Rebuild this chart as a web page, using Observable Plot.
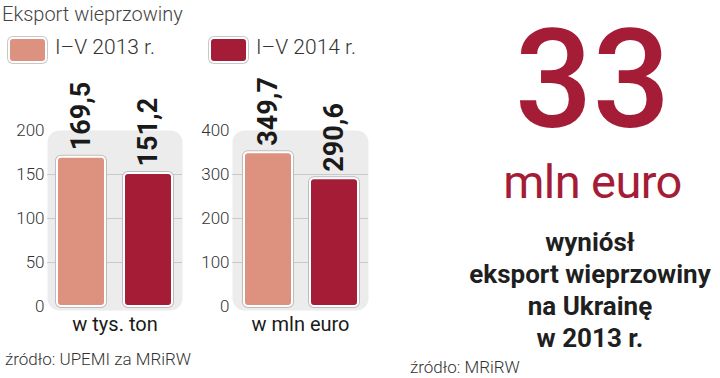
<!DOCTYPE html>
<html><head><meta charset="utf-8">
<script src="https://cdn.jsdelivr.net/npm/d3@7"></script>
<script src="https://cdn.jsdelivr.net/npm/@observablehq/plot@0.6"></script>
<style>
html,body{margin:0;padding:0;background:#fff;}
#root{position:relative;width:720px;height:378px;overflow:hidden;font-family:Roboto,"Noto Sans",sans-serif;color:#333;}
.abs{position:absolute;white-space:nowrap;line-height:1;}
.sw{position:absolute;width:35px;height:22px;border:2px solid #fff;border-radius:5px;box-shadow:0 0 0 1px #c8c8c8;}
</style></head>
<body><div id="root"></div>
<script>
// ---- data ----
const categories = ["I–V 2013 r.", "I–V 2014 r."];
const tonnes = [169.5, 151.2];
const euros = [349.7, 290.6];
const units = ["w tys. ton", "w mln euro"];
const ticksTonnes = [0, 50, 100, 150, 200];
const ticksEuro = [0, 100, 200, 300, 400];
const colors = ["#dd917f", "#a51c36"];
const title = "Eksport wieprzowiny";
const bigValue = "33";
const bigUnit = "mln euro";
const bigText = ["wyniósł", "eksport wieprzowiny", "na Ukrainę", "w 2013 r."];
const sources = ["źródło: UPEMI za MRiRW", "źródło: MRiRW"];

const root = document.getElementById("root");
function addDiv(text, css) {
  const d = document.createElement("div");
  d.className = "abs";
  d.textContent = text;
  Object.assign(d.style, css);
  root.appendChild(d);
  return d;
}

// title
addDiv(title, {left: "2px", top: "4px", fontSize: "20px", fontWeight: "300", color: "#444"});
// legend
const swX = [7, 208];
categories.forEach((c, i) => {
  const s = document.createElement("div");
  s.className = "sw";
  Object.assign(s.style, {left: (swX[i] + 1) + "px", top: "37px", background: colors[i]});
  root.appendChild(s);
  addDiv(c, {left: (swX[i] + 48) + "px", top: "37px", fontSize: "21px", fontWeight: "300", color: "#333"});
});

function chart(values, ticks, unit, opts) {
  const data = categories.map((c, i) => ({c, v: values[i], color: colors[i]}));
  const fmt = v => v.toFixed(1).replace(".", ",");
  const p = Plot.plot({
    width: 190, height: 260,
    marginTop: 50, marginBottom: 30,
    marginLeft: opts.ml, marginRight: opts.mr,
    style: {fontFamily: "Roboto, sans-serif", color: "#333", background: "transparent", overflow: "visible"},
    x: {domain: categories, paddingInner: 0.28, paddingOuter: 0, insetLeft: opts.il, insetRight: opts.ir, axis: null},
    y: {domain: [0, ticks[ticks.length - 1]], insetBottom: 4, axis: null},
    color: {type: "identity"},
    marks: [
      Plot.frame({fill: "#ececec", stroke: null, rx: 12}),
      Plot.gridY(ticks.slice(1, -1), {stroke: "#c9c9c9", strokeOpacity: 1, strokeWidth: 1}),
      Plot.axisY({ticks, tickSize: 0, tickPadding: 3, fontSize: 17, fontWeight: 300, label: null}),
      Plot.barY(data, {x: "c", y: "v", fill: "color", stroke: "#bdbdbd", strokeWidth: 4, rx: 4}),
      Plot.barY(data, {x: "c", y: "v", fill: "color", stroke: "#fff", strokeWidth: 2, rx: 4}),
      Plot.text(data, {x: "c", y: "v", text: d => fmt(d.v), rotate: -90, textAnchor: "start", lineAnchor: "middle",
        dy: -7, fontSize: 27, fontWeight: "bold", fill: "#1a1a1a", letterSpacing: "-1.2px"}),
      Plot.text([unit], {frameAnchor: "bottom", text: d => d, dy: 14, lineAnchor: "middle", fontSize: 20, fill: "#1a1a1a"})
    ]
  });
  p.style.position = "absolute";
  p.style.left = opts.left + "px";
  p.style.top = "80px";
  root.appendChild(p);
}
chart(tonnes, ticksTonnes, units[0], {left: 0, ml: 47, mr: 8, il: 10, ir: 9});
chart(euros, ticksEuro, units[1], {left: 190, ml: 42, mr: 12, il: 12, ir: 10});

// right column
addDiv(bigValue, {left: "470px", width: "245px", textAlign: "center", top: "0px", fontSize: "137px", lineHeight: "normal", fontWeight: "500", color: "#a51c36", letterSpacing: "0px"});
addDiv(bigUnit, {left: "470px", width: "245px", textAlign: "center", top: "158px", fontSize: "47px", fontWeight: "400", color: "#a51c36", letterSpacing: "-0.6px"});
const blk = addDiv("", {left: "465px", width: "250px", textAlign: "center", top: "226px", fontSize: "26px", fontWeight: "bold", color: "#1f1f1f", lineHeight: "32px"});
blk.innerHTML = bigText.join("<br>");
blk.style.whiteSpace = "nowrap";

addDiv(sources[0], {left: "5px", top: "351px", fontSize: "17px", fontWeight: "300", color: "#333"});
addDiv(sources[1], {left: "410px", top: "359px", fontSize: "17px", fontWeight: "300", color: "#333"});
</script></body></html>
